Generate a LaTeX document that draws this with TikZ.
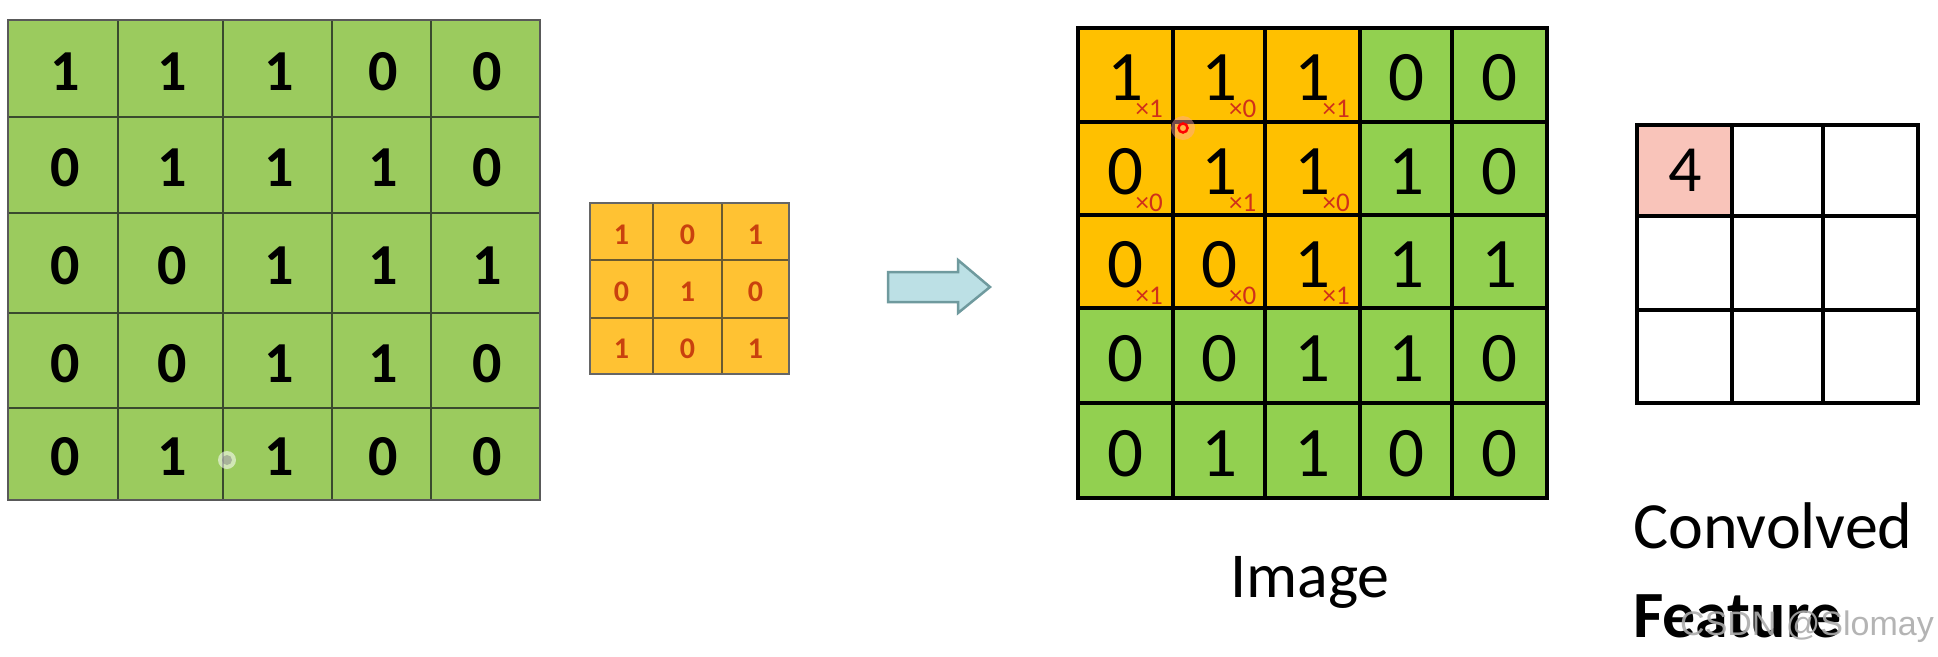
\documentclass[tikz,border=0pt]{standalone}
\usepackage{fontspec}
\setmainfont{Carlito}
\newfontfamily\wmfont{Liberation Sans}
\definecolor{lgreen}{HTML}{9BCB5E}
\definecolor{mgreen}{HTML}{92D050}
\definecolor{korange}{HTML}{FFC233}
\definecolor{morange}{HTML}{FFC000}
\definecolor{kred}{HTML}{C9410E}
\definecolor{sred}{HTML}{D0301A}
\definecolor{pinkc}{HTML}{F9C4BA}
\definecolor{arrfill}{HTML}{BCE0E5}
\definecolor{arrline}{HTML}{6F9A9E}
\definecolor{lline}{HTML}{3A4A2E}
\definecolor{kline}{HTML}{6A5A30}
\tikzset{
  ldig/.style={inner sep=0pt, font=\fontsize{58}{60}\selectfont\bfseries},
  kdig/.style={inner sep=0pt, text=kred, font=\fontsize{30}{32}\selectfont\bfseries},
  mdig/.style={inner sep=0pt, font=\fontsize{71}{73}\selectfont},
  msub/.style={inner sep=0pt, anchor=west, text=sred, font=\fontsize{27}{29}\selectfont},
  rdig/.style={inner sep=0pt, font=\fontsize{66}{68}\selectfont},
  caption/.style={inner sep=0pt, font=\fontsize{64}{66}\selectfont},
  lgrid/.style={lline, line width=2.5pt},
  kgrid/.style={kline, line width=2pt},
  mgrid/.style={black, line width=3.5pt},
}
% cell centre helper: #1 x-array, #2 y-array, #3 col, #4 row
\newcommand\cellctr[4]{%
  \pgfmathtruncatemacro\cn{#3+1}%
  \pgfmathtruncatemacro\rn{#4+1}%
  \pgfmathsetmacro\xa{#1[#3]}%
  \pgfmathsetmacro\xb{#1[\cn]}%
  \pgfmathsetmacro\ya{#2[#4]}%
  \pgfmathsetmacro\yb{#2[\rn]}%
  \pgfmathsetmacro\cx{(\xa+\xb)/2}%
  \pgfmathsetmacro\cy{(\ya+\yb)/2}%
}
\begin{document}
\begin{tikzpicture}[x=1pt,y=-1pt]
\useasboundingbox (0,0) rectangle (1938,656);
\fill[white] (0,0) rectangle (1938,656);

% ---------------- left 5x5 grid ----------------
\def\LX{{8,118,223,332,431,540}}
\def\LY{{20,117,213,313,408,500}}
\fill[lgreen] (8,20) rectangle (540,500);
\foreach \i in {1,...,4}{
  \pgfmathsetmacro\xx{\LX[\i]}
  \pgfmathsetmacro\yy{\LY[\i]}
  \draw[lgrid] (\xx,20) -- (\xx,500);
  \draw[lgrid] (8,\yy) -- (540,\yy);
}
\draw[gray!70!black, line width=2pt] (8,20) rectangle (540,500);
\foreach \v [count=\k from 0] in {1,1,1,0,0, 0,1,1,1,0, 0,0,1,1,1, 0,0,1,1,0, 0,1,1,0,0}{
  \pgfmathtruncatemacro\rr{int(\k/5)}
  \pgfmathtruncatemacro\cc{\k-5*\rr}
  \cellctr{\LX}{\LY}{\cc}{\rr}
  \node[ldig] (L-\rr-\cc) at (\cx+2,\cy+3) {\v};
}
% faint watermark icon
\fill[white, opacity=0.55] (227,460) circle (9);
\fill[gray, opacity=0.5] (227,460) circle (5);

% ---------------- kernel 3x3 ----------------
\def\KX{{590,653,722,789}}
\def\KY{{203,260,318,374}}
\fill[korange] (590,203) rectangle (789,374);
\foreach \i in {1,2}{
  \pgfmathsetmacro\xx{\KX[\i]}
  \pgfmathsetmacro\yy{\KY[\i]}
  \draw[kgrid] (\xx,203) -- (\xx,374);
  \draw[kgrid] (590,\yy) -- (789,\yy);
}
\draw[gray!80!black, line width=1.5pt] (590,203) rectangle (789,374);
\foreach \v [count=\k from 0] in {1,0,1, 0,1,0, 1,0,1}{
  \pgfmathtruncatemacro\rr{int(\k/3)}
  \pgfmathtruncatemacro\cc{\k-3*\rr}
  \cellctr{\KX}{\KY}{\cc}{\rr}
  \node[kdig] (K-\rr-\cc) at (\cx,\cy+3) {\v};
}

% ---------------- block arrow ----------------
\draw[arrline, fill=arrfill, line width=2.5pt, line join=miter]
  (888,272) -- (958,272) -- (958,260) -- (990,287) -- (958,313) -- (958,302) -- (888,302) -- cycle;

% ---------------- middle 5x5 image ----------------
\def\MX{{1078,1173,1265,1360,1452,1547}}
\def\MY{{28,122,215,308,403,498}}
\fill[mgreen] (1078,28) rectangle (1547,498);
\fill[morange] (1078,28) rectangle (1360,308);
\foreach \i in {1,...,4}{
  \pgfmathsetmacro\xx{\MX[\i]}
  \pgfmathsetmacro\yy{\MY[\i]}
  \draw[mgrid] (\xx,28) -- (\xx,498);
  \draw[mgrid] (1078,\yy) -- (1547,\yy);
}
\draw[mgrid] (1078,28) rectangle (1547,498);
\foreach \v [count=\k from 0] in {1,1,1,0,0, 0,1,1,1,0, 0,0,1,1,1, 0,0,1,1,0, 0,1,1,0,0}{
  \pgfmathtruncatemacro\rr{int(\k/5)}
  \pgfmathtruncatemacro\cc{\k-5*\rr}
  \cellctr{\MX}{\MY}{\cc}{\rr}
  \node[mdig] (M-\rr-\cc) at (\cx,\cy+3) {\v};
}
\foreach \v [count=\k from 0] in {1,0,1, 0,1,0, 1,0,1}{
  \pgfmathtruncatemacro\rr{int(\k/3)}
  \pgfmathtruncatemacro\cc{\k-3*\rr}
  \cellctr{\MX}{\MY}{\cc}{\rr}
  \node[msub] (S-\rr-\cc) at (\cx+10,\cy+34) {×\v};
}
% cursor marker
\fill[red!35, opacity=0.45] (1183,128) circle (12);
\draw[red, line width=2.5pt] (1183,128) circle (4.5);

\node[caption, anchor=base] (imgcap) at (1310,597) {Image};

% ---------------- right 3x3 feature ----------------
\def\RX{{1637,1732,1823,1918}}
\def\RY{{125,216,310,403}}
\fill[pinkc] (1637,125) rectangle (1732,216);
\foreach \i in {1,2}{
  \pgfmathsetmacro\xx{\RX[\i]}
  \pgfmathsetmacro\yy{\RY[\i]}
  \draw[mgrid] (\xx,125) -- (\xx,403);
  \draw[mgrid] (1637,\yy) -- (1918,\yy);
}
\draw[mgrid] (1637,125) rectangle (1918,403);
\node[rdig] (R-0-0) at (1685,170) {4};

\node[inner sep=0pt, anchor=base west, font=\fontsize{66}{68}\selectfont] (conv) at (1633,548) {Convolved};
\node[inner sep=0pt, anchor=base west, font=\fontsize{66}{68}\selectfont\bfseries] (feat) at (1633,637) {Feature};
\node[inner sep=0pt, anchor=base west, text=gray!65, opacity=0.9, font=\wmfont\fontsize{34}{36}\selectfont] (wm) at (1680,635) {CSDN @Slomay};
\end{tikzpicture}
\end{document}
